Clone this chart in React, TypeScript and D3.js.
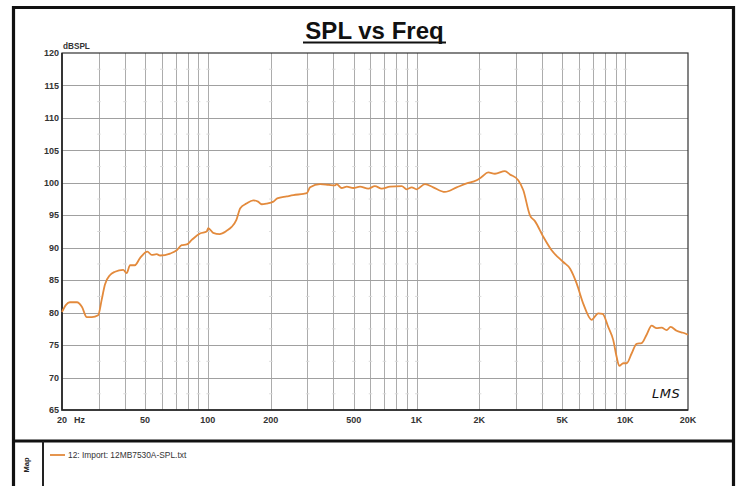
import React, { useEffect, useRef } from 'react';
import * as d3 from 'd3';

const freqs = [
  20, 20.9, 21.8, 23.6, 24.9, 26.3, 27.8, 29.8, 31, 32.1, 34, 35.9, 39.3, 40.8, 42.4, 44.7,
  47.3, 51.3, 53.8, 56.9, 59, 65.9, 70.9, 74.9, 79.2, 83.7, 91.7, 98.7, 100.5, 106, 114, 123,
  130, 137, 143, 153, 165, 174, 181, 191, 206, 215, 239, 257, 287, 298, 309, 345, 378, 407,
  414, 438, 463, 498, 536, 587, 632, 681, 746, 849, 897, 948, 1001, 1098, 1203, 1368, 1557,
  1739, 1941, 2051, 2206, 2376, 2653, 2803, 3072, 3246, 3496, 3694, 4048, 4441, 5050, 5437,
  5852, 6294, 6904, 7426, 7796, 8292, 8762, 9098, 9362, 9784, 10158, 10736, 11344, 11988,
  12668, 13388, 14146, 14948, 15798, 16508, 17638, 18968, 20000,
];
const spl = [
  80.1, 81.2, 81.6, 81.6, 80.9, 79.3, 79.3, 79.6, 82, 84.3, 85.8, 86.3, 86.6, 86.1, 87.3, 87.3,
  88.4, 89.4, 88.9, 89.0, 88.8, 89.1, 89.6, 90.4, 90.5, 91.2, 92.2, 92.5, 93.0, 92.3, 92.1, 92.6,
  93.2, 94.3, 96.1, 96.8, 97.3, 97.1, 96.7, 96.8, 97.1, 97.6, 97.9, 98.1, 98.3, 98.4, 99.3, 99.8,
  99.7, 99.6, 99.8, 99.2, 99.4, 99.2, 99.4, 99.1, 99.5, 99.1, 99.4, 99.5, 99.0, 99.3, 99.0,
  99.8, 99.3, 98.6, 99.3, 99.9, 100.4, 100.9, 101.6, 101.4, 101.8, 101.3, 100.4, 98.9, 95.0,
  94.1, 91.7, 89.6, 87.8, 86.8, 84.5, 81.4, 78.9, 79.9, 79.8, 77.8, 75.8, 73.2, 71.8, 72.2,
  72.2, 73.7, 75.2, 75.3, 76.6, 78.0, 77.6, 77.7, 77.3, 77.8, 77.2, 76.9, 76.6,
];

const yTicks = [65, 70, 75, 80, 85, 90, 95, 100, 105, 110, 115, 120];
const xTickValues = [20, 50, 100, 200, 500, 1000, 2000, 5000, 10000, 20000];
const xTickLabels = ['20', '50', '100', '200', '500', '1K', '2K', '5K', '10K', '20K'];
const legendLabel = '12: Import: 12MB7530A-SPL.txt';

const FONT = 'Arial, "Liberation Sans", sans-serif';

const App = () => {
  const svgRef = useRef(null);

  const width = 737;
  const height = 486;
  const marginTop = 53;
  const marginLeft = 62;
  const plotRight = 688;
  const plotBottom = 410;

  useEffect(() => {
    const svg = d3.select(svgRef.current);
    svg.selectAll('*').remove();

    const x = d3.scaleLog().domain([20, 20000]).range([marginLeft, plotRight]);
    const y = d3.scaleLinear().domain([65, 120]).range([plotBottom, marginTop]);

    svg.append('rect').attr('width', width).attr('height', height).attr('fill', '#fff');

    // vertical grid (every decade step)
    const gridFreqs = [];
    for (let d = 10; d <= 10000; d *= 10) {
      for (let k = 1; k <= 9; k++) {
        const f = d * k;
        if (f > 20 && f < 20000) gridFreqs.push(f);
      }
    }
    svg.append('g')
      .selectAll('line')
      .data(gridFreqs)
      .join('line')
      .attr('x1', d => Math.round(x(d)) + 0.5)
      .attr('x2', d => Math.round(x(d)) + 0.5)
      .attr('y1', marginTop)
      .attr('y2', plotBottom)
      .attr('stroke', '#acacac')
      .attr('stroke-width', 1);

    // horizontal grid
    svg.append('g')
      .selectAll('line')
      .data(yTicks.slice(1, -1))
      .join('line')
      .attr('x1', marginLeft)
      .attr('x2', plotRight)
      .attr('y1', d => Math.round(y(d)) + 0.5)
      .attr('y2', d => Math.round(y(d)) + 0.5)
      .attr('stroke', '#a0a0a0')
      .attr('stroke-width', 1);

    // faint minor marks at half steps
    const halfSteps = yTicks.slice(0, -1).map(v => v + 2.5);
    const minor = [];
    halfSteps.forEach(v => gridFreqs.forEach(f => minor.push([f, v])));
    svg.append('g')
      .selectAll('line')
      .data(minor)
      .join('line')
      .attr('x1', d => x(d[0]) - 1.5)
      .attr('x2', d => x(d[0]) + 2)
      .attr('y1', d => y(d[1]))
      .attr('y2', d => y(d[1]))
      .attr('stroke', '#dadada')
      .attr('stroke-width', 1);

    // plot frame
    svg.append('rect')
      .attr('x', marginLeft)
      .attr('y', marginTop)
      .attr('width', plotRight - marginLeft)
      .attr('height', plotBottom - marginTop)
      .attr('fill', 'none')
      .attr('stroke', '#333')
      .attr('stroke-width', 1.2);
    svg.append('path')
      .attr('d', `M${marginLeft},${marginTop}V${plotBottom}H${plotRight}`)
      .attr('fill', 'none')
      .attr('stroke', '#222')
      .attr('stroke-width', 1.6);

    // curve
    const line = d3.line()
      .x((d, i) => x(freqs[i]))
      .y(d => y(d))
      .curve(d3.curveMonotoneX);
    svg.append('path')
      .datum(spl)
      .attr('fill', 'none')
      .attr('stroke', '#e38a3c')
      .attr('stroke-width', 1.8)
      .attr('stroke-linejoin', 'round')
      .attr('d', line);

    // y labels
    svg.append('g')
      .selectAll('text')
      .data(yTicks)
      .join('text')
      .attr('x', marginLeft - 3)
      .attr('y', d => y(d))
      .attr('dy', '0.35em')
      .attr('text-anchor', 'end')
      .attr('font-family', FONT)
      .attr('font-weight', 'bold')
      .attr('font-size', 9)
      .attr('fill', '#333')
      .text(d => d);

    svg.append('text')
      .attr('x', marginLeft + 1)
      .attr('y', marginTop - 4)
      .attr('font-family', FONT)
      .attr('font-weight', 'bold')
      .attr('font-size', 8.2)
      .attr('fill', '#333')
      .text('dBSPL');

    // x labels
    svg.append('g')
      .selectAll('text')
      .data(xTickValues)
      .join('text')
      .attr('x', d => x(d))
      .attr('y', plotBottom + 13)
      .attr('text-anchor', 'middle')
      .attr('font-family', FONT)
      .attr('font-weight', 'bold')
      .attr('font-size', 9)
      .attr('fill', '#333')
      .text((d, i) => xTickLabels[i]);
    svg.append('text')
      .attr('x', x(20) + 12)
      .attr('y', plotBottom + 13)
      .attr('font-family', FONT)
      .attr('font-weight', 'bold')
      .attr('font-size', 9)
      .attr('fill', '#333')
      .text('Hz');

    // LMS mark
    svg.append('text')
      .attr('x', 652)
      .attr('y', 398)
      .attr('font-family', '"DejaVu Sans", sans-serif')
      .attr('font-style', 'italic')
      .attr('font-size', 13)
      .attr('letter-spacing', 0.5)
      .attr('fill', '#111')
      .text('LMS');

    // title
    svg.append('text')
      .attr('x', 374.5)
      .attr('y', 39)
      .attr('text-anchor', 'middle')
      .attr('font-family', FONT)
      .attr('font-weight', 'bold')
      .attr('font-size', 24)
      .attr('fill', '#111')
      .text('SPL vs Freq');
    svg.append('line')
      .attr('x1', 303).attr('x2', 446)
      .attr('y1', 42.5).attr('y2', 42.5)
      .attr('stroke', '#111')
      .attr('stroke-width', 2);

    // outer frame and legend area
    svg.append('path')
      .attr('d', `M13.5,${height + 5}V7.5H733.5V${height + 5}`)
      .attr('fill', 'none')
      .attr('stroke', '#111')
      .attr('stroke-width', 3.2);
    svg.append('line')
      .attr('x1', 12).attr('x2', 735)
      .attr('y1', 441).attr('y2', 441)
      .attr('stroke', '#111')
      .attr('stroke-width', 3.2);
    svg.append('line')
      .attr('x1', 43).attr('x2', 43)
      .attr('y1', 441).attr('y2', height)
      .attr('stroke', '#222')
      .attr('stroke-width', 2);
    svg.append('text')
      .attr('transform', 'translate(29,465) rotate(-90)')
      .attr('text-anchor', 'middle')
      .attr('font-family', FONT)
      .attr('font-weight', 'bold')
      .attr('font-size', 7.5)
      .attr('fill', '#222')
      .text('Map');

    svg.append('line')
      .attr('x1', 50).attr('x2', 65)
      .attr('y1', 455).attr('y2', 455)
      .attr('stroke', '#e38a3c')
      .attr('stroke-width', 1.8);
    svg.append('text')
      .attr('x', 68)
      .attr('y', 458)
      .attr('font-family', FONT)
      .attr('font-size', 8.4)
      .attr('fill', '#333')
      .text(legendLabel);
  }, []);

  return (
    <div style={{ position: 'absolute', left: 0, top: 0 }}>
      <svg ref={svgRef} width={width} height={height} style={{ display: 'block' }}></svg>
    </div>
  );
};

export default App;
